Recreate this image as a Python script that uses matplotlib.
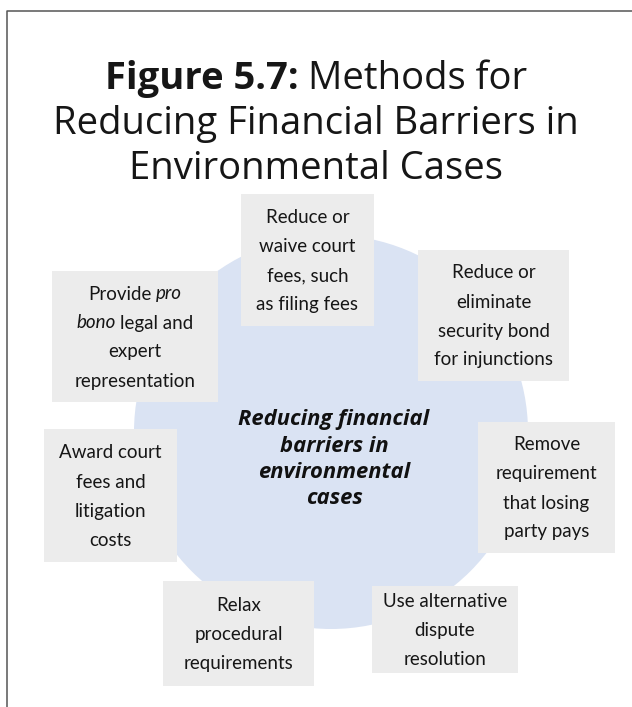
import matplotlib
matplotlib.use("Agg")
import matplotlib.pyplot as plt
from matplotlib.patches import Circle, Rectangle

# ---- content ----
title_lines = [[("Figure 5.7:", "bold"), ("Methods for", "normal")],
               [("Reducing Financial Barriers in", "normal")],
               [("Environmental Cases", "normal")]]
center_lines = ["Reducing financial", "barriers in", "environmental", "cases"]
box_labels = [
    ["Reduce or", "waive court", "fees, such", "as filing fees"],
    ["Reduce or", "eliminate", "security bond", "for injunctions"],
    ["Remove", "requirement", "that losing", "party pays"],
    ["Use alternative", "dispute", "resolution"],
    ["Relax", "procedural", "requirements"],
    ["Award court", "fees and", "litigation", "costs"],
    ["Provide *pro*", "*bono* legal and", "expert", "representation"],
]

# ---- layout (pixels, y down) ----
box_rects = [(241, 194, 374, 326), (418, 250, 569, 381), (478, 422, 615, 553),
             (372, 586, 518, 673), (163, 581, 314, 686), (44, 429, 177, 562),
             (52, 271, 218, 402)]
circle_xy, circle_r = (331, 432), 197
title_base = [89, 134, 179]
center_mid = [418, 445, 471, 497]

W, H = 632, 707
fig = plt.figure(figsize=(W / 100, H / 100), dpi=100)
ax = fig.add_axes([0, 0, 1, 1])
ax.set_xlim(0, W)
ax.set_ylim(H, 0)
ax.axis("off")
renderer = fig.canvas.get_renderer()

txt_col = "#161616"

# frame (left and top)
ax.plot([7, 7, W], [H, 11, 11], color="#555555", lw=1.1, solid_capstyle="butt")

ax.add_patch(Circle(circle_xy, circle_r, facecolor="#dae3f3", edgecolor="none"))


def draw_runs(xc, y, runs, family, size):
    # runs: list of (text, style) ; style in normal/bold/italic
    gap_t = ax.text(0, 0, "a a", family=family, fontsize=size)
    nog_t = ax.text(0, 0, "aa", family=family, fontsize=size)
    gap = gap_t.get_window_extent(renderer).width - nog_t.get_window_extent(renderer).width
    gap_t.remove()
    nog_t.remove()
    objs = []
    for s, st in runs:
        t = ax.text(0, y, s, family=family, fontsize=size, color=txt_col, va="baseline", ha="left",
                    fontweight="bold" if st == "bold" else "normal",
                    fontstyle="italic" if st == "italic" else "normal")
        objs.append((t, t.get_window_extent(renderer).width))
    total = sum(w for _, w in objs) + gap * (len(objs) - 1)
    x = xc - total / 2
    for t, w in objs:
        t.set_x(x)
        x += w + gap


for i, runs in enumerate(title_lines):
    draw_runs(W / 2, title_base[i], runs, "Open Sans", 27.5)

for lab, (x0, y0, x1, y1) in zip(box_labels, box_rects):
    ax.add_patch(Rectangle((x0, y0), x1 - x0, y1 - y0, facecolor="#ececec", edgecolor="none"))
    cy = (y0 + y1) / 2
    n = len(lab)
    for i, line in enumerate(lab):
        runs = []
        for word in line.split(" "):
            if word.startswith("*"):
                runs.append((word.strip("*"), "italic"))
            elif runs and runs[-1][1] == "normal":
                runs[-1] = (runs[-1][0] + " " + word, "normal")
            else:
                runs.append((word, "normal"))
        draw_runs((x0 + x1) / 2, cy + (i - (n - 1) / 2) * 29 + 6.5, runs, "Lato", 13.5)

for i, line in enumerate(center_lines):
    ax.text(334, center_mid[i] + 7.5, line, family="Open Sans", fontsize=15.8, fontweight="bold",
            fontstyle="italic", color="#111111", ha="center", va="baseline")

fig.savefig("out.png", dpi=100)
